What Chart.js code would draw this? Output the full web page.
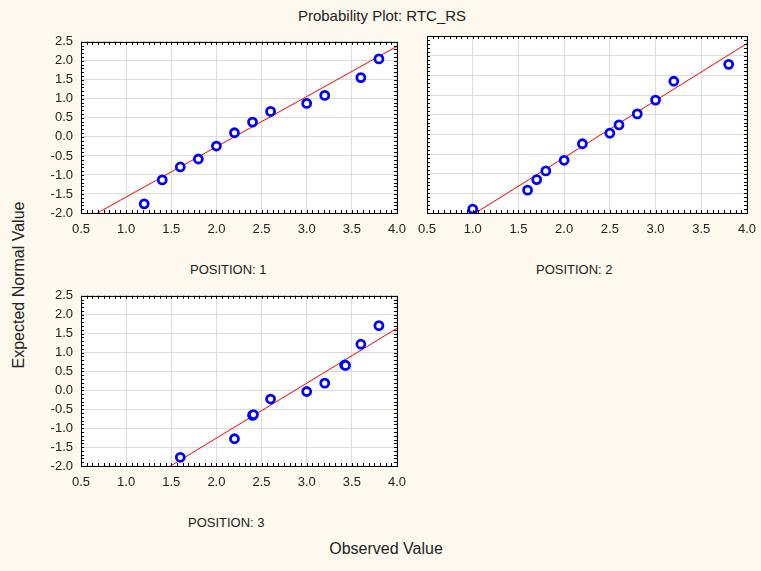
<!DOCTYPE html>
<html>
<head>
<meta charset="utf-8">
<script src="https://cdn.jsdelivr.net/npm/chart.js@4.4.0/dist/chart.umd.min.js"></script>
<style>
  html, body { margin: 0; padding: 0; background: #fdf9ee; }
  body { width: 761px; height: 571px; position: relative; overflow: hidden;
         font-family: 'Liberation Sans', Arial, sans-serif; color: #222; }
  .panel { position: absolute; }
  .lbl { position: absolute; font-size: 16px; white-space: nowrap; }
  .small { font-size: 13px; }
</style>
</head>
<body>
<div class="lbl" style="left:382px; top:15px; transform:translate(-50%,-50%); font-size:15px;">Probability Plot: RTC_RS</div>
<div class="lbl" style="left:19px; top:285px; transform:translate(-50%,-50%) rotate(-90deg);">Expected Normal Value</div>
<div class="lbl" style="left:386px; top:549px; transform:translate(-50%,-50%);">Observed Value</div>
<div class="lbl small" style="left:190px; top:269px; transform:translateY(-50%);">POSITION: 1</div>
<div class="lbl small" style="left:536px; top:269px; transform:translateY(-50%);">POSITION: 2</div>
<div class="lbl small" style="left:188px; top:522px; transform:translateY(-50%);">POSITION: 3</div>

<div class="panel" style="left:40px; top:26px; width:375px; height:214px;"><canvas id="pos1"></canvas></div>
<div class="panel" style="left:400px; top:26px; width:365px; height:214px;"><canvas id="pos2"></canvas></div>
<div class="panel" style="left:40px; top:280px; width:375px; height:214px;"><canvas id="pos3"></canvas></div>

<script>
// axis ranges (observed value on x, expected normal value on y)
const xMin = 0.5, xMax = 4.0, xStep = 0.5;
const yMin = -2.0, yMax = 2.5, yStep = 0.5;

// POSITION: 1
const pos1Observed = [1.2, 1.4, 1.6, 1.8, 2.0, 2.2, 2.4, 2.6, 3.0, 3.2, 3.6, 3.8];
const pos1Expected = [-1.76, -1.13, -0.79, -0.58, -0.24, 0.11, 0.39, 0.67, 0.88, 1.09, 1.56, 2.05];
const pos1FitX = [0.5, 4.0];
const pos1FitY = [-2.24, 2.38];

// POSITION: 2
const pos2Observed = [1.0, 1.6, 1.7, 1.8, 2.0, 2.2, 2.5, 2.6, 2.8, 3.0, 3.2, 3.8];
const pos2Expected = [-1.9, -1.42, -1.15, -0.93, -0.66, -0.24, 0.03, 0.24, 0.52, 0.87, 1.35, 1.78];
const pos2FitX = [0.5, 4.0];
const pos2FitY = [-2.77, 2.31];

// POSITION: 3 (two near-tied pairs at 2.4 and 3.4)
const pos3Observed = [1.6, 2.2, 2.4, 2.41, 2.6, 3.0, 3.2, 3.42, 3.43, 3.6, 3.8];
const pos3Expected = [-1.77, -1.28, -0.66, -0.64, -0.23, -0.03, 0.19, 0.67, 0.66, 1.22, 1.71];
const pos3FitX = [0.5, 4.0];
const pos3FitY = [-3.44, 1.64];

const toPoints = (xs, ys) => xs.map((x, i) => ({ x: x, y: ys[i] }));

// white plot area, frame and small inner ticks on all four sides
const framePlugin = {
    id: 'frame',
    beforeDraw(chart) {
        const a = chart.chartArea, ctx = chart.ctx;
        ctx.save();
        ctx.fillStyle = '#ffffff';
        ctx.fillRect(a.left, a.top, a.right - a.left, a.bottom - a.top);
        ctx.restore();
    },
    afterDatasetsDraw(chart) {
        const a = chart.chartArea, ctx = chart.ctx;
        const xs = chart.scales.x, ys = chart.scales.y;
        ctx.save();
        ctx.strokeStyle = '#000';
        ctx.lineWidth = 1;
        ctx.beginPath();
        for (let v = xMin; v <= xMax + 1e-9; v += 0.0625) {
            const px = Math.round(xs.getPixelForValue(v)) + 0.5;
            ctx.moveTo(px, a.bottom); ctx.lineTo(px, a.bottom - 3);
            ctx.moveTo(px, a.top); ctx.lineTo(px, a.top + 3);
        }
        for (let v = yMin; v <= yMax + 1e-9; v += 0.1) {
            const py = Math.round(ys.getPixelForValue(v)) + 0.5;
            ctx.moveTo(a.left, py); ctx.lineTo(a.left + 3, py);
            ctx.moveTo(a.right, py); ctx.lineTo(a.right - 3, py);
        }
        ctx.stroke();
        ctx.strokeRect(Math.round(a.left) + 0.5, Math.round(a.top) + 0.5,
                       Math.round(a.right - a.left), Math.round(a.bottom - a.top));
        ctx.restore();
    }
};

function makePanel(id, observed, expected, fitX, fitY, opts) {
    const ctx = document.getElementById(id);
    new Chart(ctx, {
        type: 'scatter',
        data: {
            datasets: [
                {
                    data: toPoints(observed, expected),
                    borderColor: '#0000ff',
                    backgroundColor: '#ffffff',
                    pointRadius: 4,
                    pointBorderWidth: 2.8,
                    order: 1
                },
                {
                    data: toPoints(fitX, fitY),
                    showLine: true,
                    borderColor: '#ff0000',
                    borderWidth: 1,
                    pointRadius: 0,
                    order: 2
                }
            ]
        },
        options: {
            responsive: true,
            maintainAspectRatio: false,
            animation: false,
            events: [],
            layout: { padding: { top: 10, right: opts.right, left: 0, bottom: 0 } },
            plugins: { legend: { display: false }, tooltip: { enabled: false } },
            scales: {
                x: {
                    type: 'linear',
                    min: xMin, max: xMax,
                    afterFit: s => { s.height = opts.xHeight; },
                    ticks: {
                        stepSize: xStep,
                        padding: 9,
                        color: '#222',
                        font: { family: "'Liberation Sans', Arial", size: 13 },
                        callback: v => v.toFixed(1),
                        maxRotation: 0
                    },
                    grid: { color: '#dcdcdc', drawTicks: false },
                    border: { display: false }
                },
                y: {
                    type: 'linear',
                    min: yMin, max: yMax,
                    afterFit: s => { s.width = opts.yWidth; },
                    ticks: {
                        display: opts.yLabels,
                        stepSize: yStep,
                        padding: 8,
                        color: '#222',
                        font: { family: "'Liberation Sans', Arial", size: 13 },
                        callback: v => v.toFixed(1)
                    },
                    grid: { color: '#dcdcdc', drawTicks: false },
                    border: { display: false }
                }
            }
        },
        plugins: [framePlugin]
    });
}

makePanel('pos1', pos1Observed, pos1Expected, pos1FitX, pos1FitY, { right: 12, xHeight: 27, yWidth: 41, yLabels: true });
makePanel('pos2', pos2Observed, pos2Expected, pos2FitX, pos2FitY, { right: 16, xHeight: 27, yWidth: 27, yLabels: false });
makePanel('pos3', pos3Observed, pos3Expected, pos3FitX, pos3FitY, { right: 12, xHeight: 28, yWidth: 41, yLabels: true });
</script>
</body>
</html>
